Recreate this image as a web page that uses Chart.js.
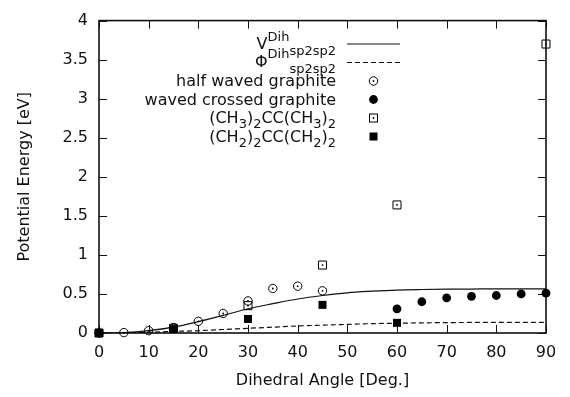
<!DOCTYPE html>
<html>
<head>
<meta charset="utf-8">
<script src="https://cdn.jsdelivr.net/npm/chart.js@4/dist/chart.umd.min.js"></script>
<style>
  html, body { margin: 0; padding: 0; background: #fff; }
  #c { display: block; }
</style>
</head>
<body>
<canvas id="c" width="570" height="397"></canvas>
<script>
// ---------------- data ----------------
const curveAngles   = [0, 5, 10, 15, 20, 25, 30, 35, 40, 45, 50, 55, 60, 65, 70, 75, 80, 85, 90];
const vDihValues    = [0, 0.005, 0.03, 0.075, 0.145, 0.225, 0.31, 0.375, 0.435, 0.48, 0.515, 0.535, 0.55, 0.557, 0.561, 0.563, 0.565, 0.565, 0.565];
const phiDihValues  = [0, 0.003, 0.01, 0.02, 0.03, 0.045, 0.06, 0.075, 0.09, 0.10, 0.11, 0.12, 0.125, 0.13, 0.133, 0.135, 0.135, 0.135, 0.135];

const halfWavedAngles = [0, 5, 10, 15, 20, 25, 30, 35, 40, 45];
const halfWavedValues = [0, 0.005, 0.03, 0.07, 0.15, 0.25, 0.41, 0.57, 0.60, 0.54];

const wavedCrossedAngles = [60, 65, 70, 75, 80, 85, 90];
const wavedCrossedValues = [0.31, 0.40, 0.45, 0.47, 0.48, 0.50, 0.51];

const ch3Angles = [0, 15, 30, 45, 60, 90];
const ch3Values = [0, 0.06, 0.35, 0.87, 1.64, 3.70];

const ch2Angles = [0, 15, 30, 45, 60];
const ch2Values = [0, 0.05, 0.18, 0.36, 0.13];

const xTitle = 'Dihedral Angle [Deg.]';
const yTitle = 'Potential Energy [eV]';

// ---------------- helpers ----------------
const FONT = 'DejaVu Sans';
const INK = '#111';
const LINE = '#111';

function pts(xs, ys) { return xs.map((x, i) => ({ x: x, y: ys[i] })); }

// ---------------- plugins ----------------
const framePlugin = {
  id: 'frame',
  beforeDatasetsDraw(chart) {
    const { ctx, chartArea: a, scales } = chart;
    ctx.save();
    ctx.strokeStyle = LINE;
    ctx.lineWidth = 1;
    const tl = 8;
    scales.x.ticks.forEach(t => {
      const px = Math.round(scales.x.getPixelForValue(t.value)) + 0.5;
      ctx.beginPath();
      ctx.moveTo(px, a.bottom); ctx.lineTo(px, a.bottom - tl);
      ctx.moveTo(px, a.top); ctx.lineTo(px, a.top + tl);
      ctx.stroke();
    });
    scales.y.ticks.forEach(t => {
      const py = Math.round(scales.y.getPixelForValue(t.value)) + 0.5;
      ctx.beginPath();
      ctx.moveTo(a.left, py); ctx.lineTo(a.left + tl, py);
      ctx.moveTo(a.right, py); ctx.lineTo(a.right - tl, py);
      ctx.stroke();
    });
    ctx.lineWidth = 1.6;
    ctx.strokeRect(a.left, a.top, a.right - a.left, a.bottom - a.top);
    ctx.restore();
  }
};

// small centre dot on the open markers, at the positions the library computed
const centreDotPlugin = {
  id: 'centreDot',
  afterDatasetsDraw(chart) {
    const ctx = chart.ctx;
    ctx.save();
    ctx.fillStyle = '#000';
    chart.data.datasets.forEach((ds, i) => {
      if (!ds.centreDot) return;
      chart.getDatasetMeta(i).data.forEach(el => {
        ctx.beginPath(); ctx.arc(el.x, el.y, 0.9, 0, Math.PI * 2); ctx.fill();
      });
    });
    ctx.restore();
  }
};

function drawRich(ctx, segs, rightX, baseline) {
  const fontFor = s => (s.m === 'n' ? '16px "' + FONT + '"' : '13px "' + FONT + '"');
  let total = 0;
  segs.forEach(s => { ctx.font = fontFor(s); s.w = ctx.measureText(s.t).width; total += s.w; });
  let x = rightX - total;
  segs.forEach(s => {
    ctx.font = fontFor(s);
    const dy = s.m === 'sup' ? (s.dy !== undefined ? s.dy : -8) : s.m === 'sub' ? (s.dy !== undefined ? s.dy : 5) : 0;
    ctx.fillText(s.t, x, baseline + dy);
    x += s.w;
  });
}

function legendMarker(ctx, kind, x, y) {
  ctx.save();
  ctx.strokeStyle = '#000'; ctx.fillStyle = '#000'; ctx.lineWidth = 1;
  if (kind === 'openCircle') {
    ctx.beginPath(); ctx.arc(x, y, 4.2, 0, Math.PI * 2); ctx.stroke();
    ctx.beginPath(); ctx.arc(x, y, 0.9, 0, Math.PI * 2); ctx.fill();
  } else if (kind === 'filledCircle') {
    ctx.beginPath(); ctx.arc(x, y, 4.4, 0, Math.PI * 2); ctx.fill();
  } else if (kind === 'openSquare') {
    ctx.strokeRect(x - 4, y - 4, 8, 8);
    ctx.beginPath(); ctx.arc(x, y, 0.9, 0, Math.PI * 2); ctx.fill();
  } else {
    ctx.fillRect(x - 4, y - 4, 8, 8);
  }
  ctx.restore();
}

const legendPlugin = {
  id: 'richLegend',
  afterDraw(chart) {
    const ctx = chart.ctx;
    ctx.save();
    ctx.fillStyle = INK;
    ctx.textAlign = 'left';
    ctx.textBaseline = 'alphabetic';
    const textRight = 336;
    const sx0 = 347, sx1 = 400, mx = 373.5;
    const rows = [43.5, 62, 81, 99.5, 118, 136.5];

    drawRich(ctx, [{ t: 'V', m: 'n' }, { t: 'Dih', m: 'sup', dy: -8 }, { t: 'sp2sp2', m: 'sub', dy: 6 }], textRight, rows[0] + 5);
    ctx.strokeStyle = LINE; ctx.lineWidth = 1.2;
    ctx.beginPath(); ctx.moveTo(sx0, rows[0] + 0.5); ctx.lineTo(sx1, rows[0] + 0.5); ctx.stroke();

    drawRich(ctx, [{ t: 'Φ', m: 'n' }, { t: 'Dih', m: 'sup', dy: -9 }, { t: 'sp2sp2', m: 'sub', dy: 6 }], textRight, rows[1] + 5);
    ctx.setLineDash([5, 3]);
    ctx.beginPath(); ctx.moveTo(sx0, rows[1] + 0.5); ctx.lineTo(sx1, rows[1] + 0.5); ctx.stroke();
    ctx.setLineDash([]);

    drawRich(ctx, [{ t: 'half waved graphite', m: 'n' }], textRight, rows[2] + 5);
    legendMarker(ctx, 'openCircle', mx, rows[2]);
    drawRich(ctx, [{ t: 'waved crossed graphite', m: 'n' }], textRight, rows[3] + 5);
    legendMarker(ctx, 'filledCircle', mx, rows[3]);
    drawRich(ctx, [
      { t: '(CH', m: 'n' }, { t: '3', m: 'sub' }, { t: ')', m: 'n' }, { t: '2', m: 'sub' },
      { t: 'CC(CH', m: 'n' }, { t: '3', m: 'sub' }, { t: ')', m: 'n' }, { t: '2', m: 'sub' }
    ], textRight, rows[4] + 5);
    legendMarker(ctx, 'openSquare', mx, rows[4]);
    drawRich(ctx, [
      { t: '(CH', m: 'n' }, { t: '2', m: 'sub' }, { t: ')', m: 'n' }, { t: '2', m: 'sub' },
      { t: 'CC(CH', m: 'n' }, { t: '2', m: 'sub' }, { t: ')', m: 'n' }, { t: '2', m: 'sub' }
    ], textRight, rows[5] + 5);
    legendMarker(ctx, 'filledSquare', mx, rows[5]);
    ctx.restore();
  }
};

// ---------------- chart ----------------
const tickFont = { family: FONT, size: 16 };
const fmt = v => String(Number(Number(v).toFixed(2)));

new Chart(document.getElementById('c'), {
  type: 'scatter',
  data: {
    datasets: [
      { label: 'half waved graphite', data: pts(halfWavedAngles, halfWavedValues), pointStyle: 'circle', pointRadius: 4.2, borderColor: '#000', backgroundColor: 'rgba(0,0,0,0)', borderWidth: 1, clip: false, order: 1, centreDot: true },
      { label: 'waved crossed graphite', data: pts(wavedCrossedAngles, wavedCrossedValues), pointStyle: 'circle', pointRadius: 4.4, borderColor: '#000', backgroundColor: '#000', borderWidth: 0, clip: false, order: 1 },
      { label: '(CH3)2CC(CH3)2', data: pts(ch3Angles, ch3Values), pointStyle: 'rect', pointRadius: 5.66, borderColor: '#000', backgroundColor: 'rgba(0,0,0,0)', borderWidth: 1, clip: false, order: 1, centreDot: true },
      { label: '(CH2)2CC(CH2)2', data: pts(ch2Angles, ch2Values), pointStyle: 'rect', pointRadius: 5.66, borderColor: '#000', backgroundColor: '#000', borderWidth: 0, clip: false, order: 1 },
      { label: 'V Dih sp2sp2', data: pts(curveAngles, vDihValues), showLine: true, pointRadius: 0, borderColor: LINE, borderWidth: 1.2, cubicInterpolationMode: 'monotone', order: 5 },
      { label: 'Phi Dih sp2sp2', data: pts(curveAngles, phiDihValues), showLine: true, pointRadius: 0, borderColor: LINE, borderWidth: 1.2, borderDash: [5, 3], cubicInterpolationMode: 'monotone', order: 5 }
    ]
  },
  options: {
    responsive: false,
    animation: false,
    events: [],
    layout: { padding: { top: 12, right: 24, left: 0, bottom: 0 } },
    plugins: { legend: { display: false }, tooltip: { enabled: false } },
    scales: {
      x: {
        type: 'linear', min: 0, max: 90,
        ticks: { stepSize: 10, font: tickFont, color: INK, padding: 10, maxRotation: 0, callback: fmt },
        grid: { display: false, drawTicks: false },
        border: { display: false },
        title: { display: true, text: xTitle, font: tickFont, color: INK, padding: { top: 0, bottom: 7 } },
        afterFit(s) { s.height = 64; }
      },
      y: {
        type: 'linear', min: 0, max: 4,
        ticks: { stepSize: 0.5, font: tickFont, color: INK, padding: 11, callback: fmt },
        grid: { display: false, drawTicks: false },
        border: { display: false },
        title: { display: true, text: yTitle, font: tickFont, color: INK, padding: { top: 15, bottom: 0 } },
        afterFit(s) { s.width = 99; }
      }
    }
  },
  plugins: [framePlugin, centreDotPlugin, legendPlugin]
});
</script>
</body>
</html>
